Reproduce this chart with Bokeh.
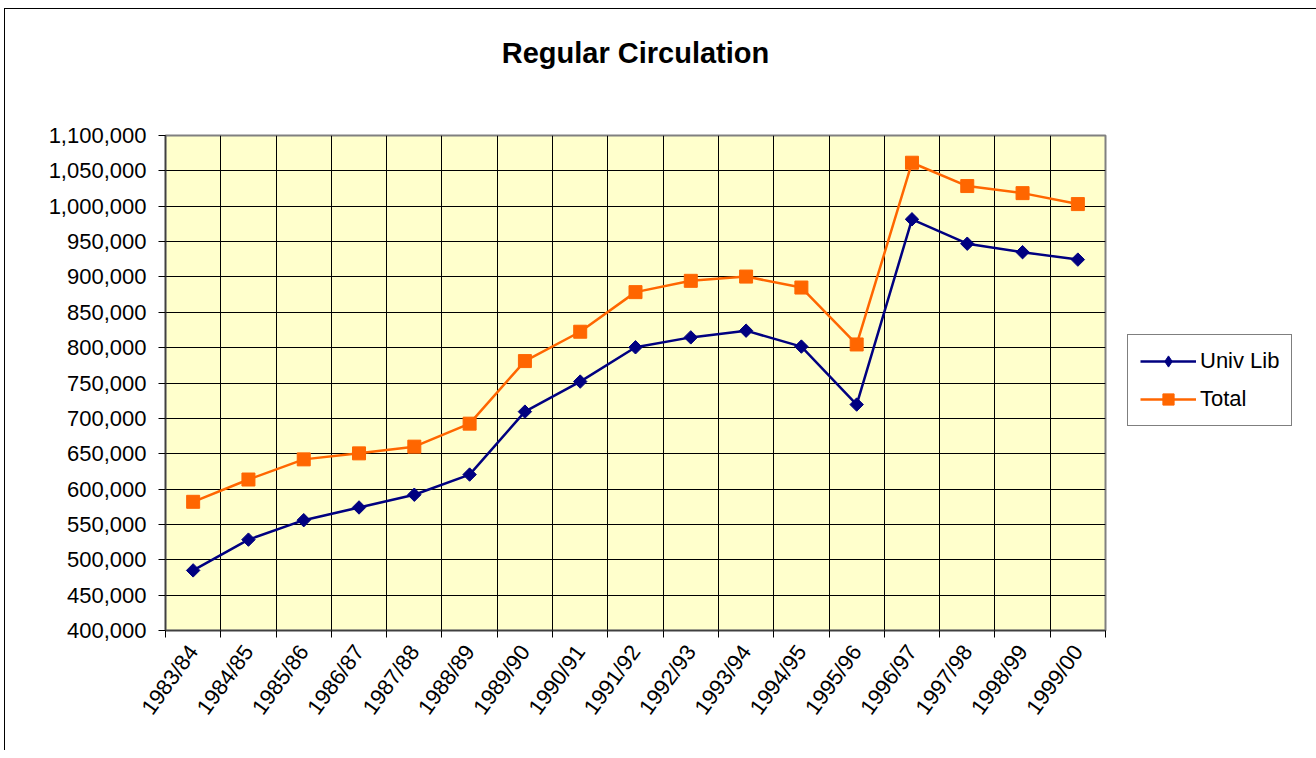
import numpy as np
from bokeh.plotting import figure
from bokeh.models import (Range1d, FixedTicker, NumeralTickFormatter, Legend, Title)
from bokeh.embed import file_html
from bokeh.resources import INLINE

categories = ["1983/84", "1984/85", "1985/86", "1986/87", "1987/88", "1988/89",
              "1989/90", "1990/91", "1991/92", "1992/93", "1993/94", "1994/95",
              "1995/96", "1996/97", "1997/98", "1998/99", "1999/00"]
univ_lib = [485000, 528500, 556000, 574000, 592000, 620500, 709500, 752000,
            800500, 814500, 824000, 801500, 719500, 981500, 947000, 935000, 924500]
total = [582000, 613500, 642000, 650500, 660000, 692500, 781000, 822500,
         878500, 894500, 900500, 885000, 804500, 1061500, 1028500, 1018500, 1003000]
y_ticks = list(range(400000, 1100001, 50000))

FONT = "Liberation Sans"
n = len(categories)
xs = np.arange(n) + 0.5

FRAME_W, FRAME_H = 940, 495

p = figure(frame_width=FRAME_W, frame_height=FRAME_H, output_backend="svg",
           toolbar_location=None, min_border_left=160, min_border_top=126,
           min_border_bottom=120, min_border_right=198,
           x_range=Range1d(0, n), y_range=Range1d(y_ticks[0], y_ticks[-1]))
p.background_fill_color = "#FFFFCC"
p.border_fill_color = "white"
p.outline_line_color = "#808080"
p.outline_line_width = 2
p.styles = {"border-left": "1px solid black", "border-top": "1px solid black",
            "margin-left": "4px", "margin-top": "8px"}

# spacer between frame and title
p.add_layout(Title(text=" ", text_font_size="10px", standoff=31), "above")

p.title.text = "Regular Circulation"
p.title.align = "center"
p.title.text_font = FONT
p.title.text_font_style = "bold"
p.title.text_font_size = "29px"
p.title.text_color = "black"
p.title.standoff = 46

# axes
p.xaxis.ticker = FixedTicker(ticks=list(xs), minor_ticks=list(range(n + 1)))
p.xaxis.major_label_overrides = {float(x): c for x, c in zip(xs, categories)}
p.xaxis.major_label_orientation = np.deg2rad(54)
p.xaxis.major_tick_out = 0
p.xaxis.major_tick_in = 0
p.xaxis.minor_tick_out = 7
p.xaxis.minor_tick_in = 0
p.xaxis.minor_tick_line_color = "black"
p.xaxis.major_label_standoff = 10

p.yaxis.ticker = FixedTicker(ticks=y_ticks)
p.yaxis.formatter = NumeralTickFormatter(format="0,0")
p.yaxis.major_tick_out = 7
p.yaxis.major_tick_in = 0
p.yaxis.minor_tick_out = 0
p.yaxis.major_label_standoff = 12

for ax in (p.xaxis[0], p.yaxis[0]):
    ax.axis_line_color = "#404040"
    ax.axis_line_width = 1.5
    ax.major_tick_line_color = "black"
    ax.major_label_text_font = FONT
    ax.major_label_text_font_size = "22px"
    ax.major_label_text_color = "black"

p.xgrid.ticker = FixedTicker(ticks=list(range(n + 1)))
p.xgrid.grid_line_color = "black"
p.xgrid.grid_line_width = 1
p.ygrid.ticker = FixedTicker(ticks=y_ticks)
p.ygrid.grid_line_color = "black"
p.ygrid.grid_line_width = 1

# series
l1 = p.line(xs, univ_lib, line_color="#000080", line_width=2.5)
s1 = p.scatter(xs, univ_lib, marker="square", angle=np.pi / 4, size=9.5,
               fill_color="#000080", line_color="#000080")
l2 = p.line(xs, total, line_color="#FF6600", line_width=2.5)
s2 = p.scatter(xs, total, marker="square", size=13,
               fill_color="#FF6600", line_color="#FF6600")
# legend-key markers (not drawn in the plot: NaN position)
k1 = p.scatter([np.nan], [np.nan], marker="diamond", size=16,
               fill_color="#000080", line_color="#000080")
k2 = p.scatter([np.nan], [np.nan], marker="square", size=14,
               fill_color="#FF6600", line_color="#FF6600")

legend = Legend(items=[("Univ Lib", [l1, k1]), ("Total", [l2, k2])],
                location=(22, 204))
legend.label_text_font = FONT
legend.label_text_font_size = "22px"
legend.label_text_color = "black"
legend.glyph_width = 56
legend.glyph_height = 28
legend.label_standoff = 4
legend.spacing = 10
legend.padding = 12
legend.margin = 0
legend.border_line_color = "black"
legend.border_line_width = 1
legend.background_fill_color = "white"
p.add_layout(legend, "right")

open("out.html", "w").write(file_html(p, INLINE))
